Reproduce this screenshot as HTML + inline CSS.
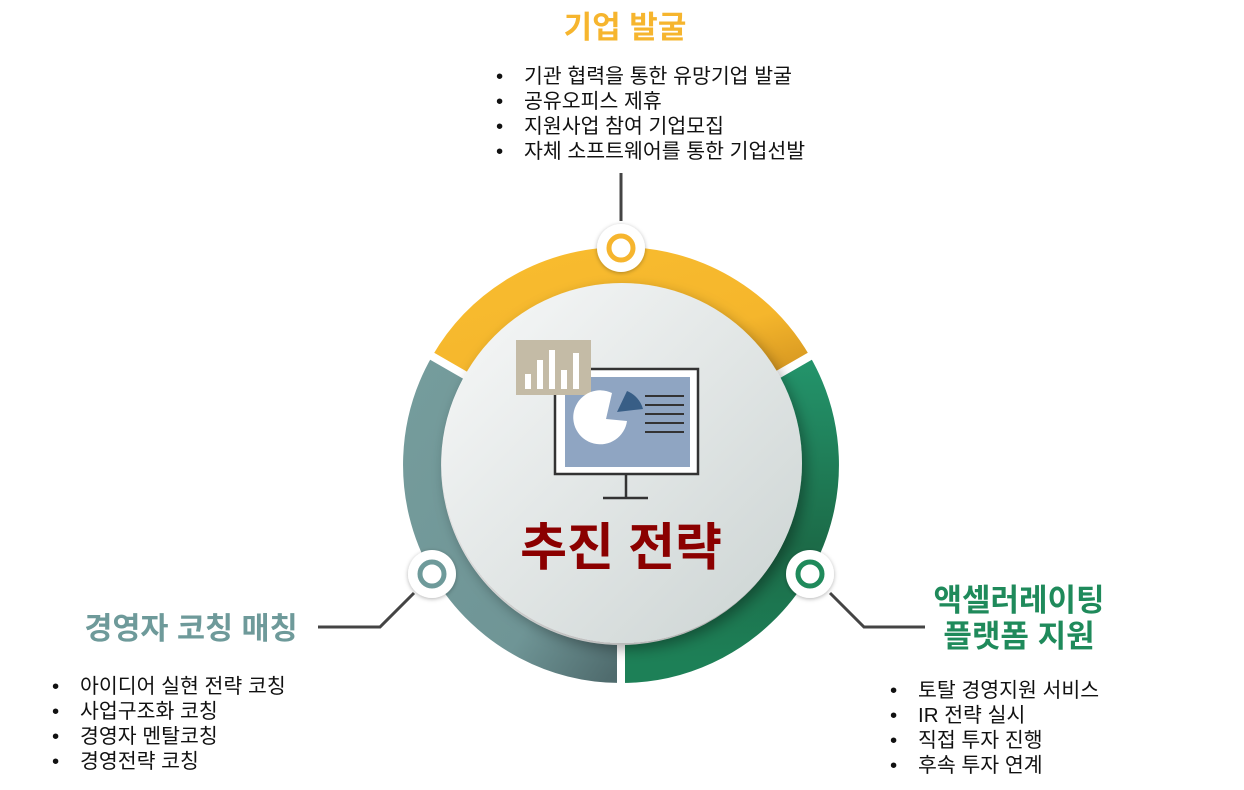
<!DOCTYPE html>
<html><head><meta charset="utf-8"><style>
html,body{margin:0;padding:0;background:#fff;}
svg{display:block;font-family:"Liberation Sans","Noto Sans CJK KR",sans-serif;}
</style></head><body>
<svg width="1244" height="790" viewBox="0 0 1244 790" xmlns="http://www.w3.org/2000/svg">
<defs>
<linearGradient id="gy" x1="0" y1="0" x2="1" y2="1"><stop offset="0" stop-color="#F8BC2F"/><stop offset="0.7" stop-color="#F5B62C"/><stop offset="1" stop-color="#D99A22"/></linearGradient>
<linearGradient id="gg" x1="0" y1="0" x2="0" y2="1"><stop offset="0" stop-color="#23936A"/><stop offset="0.6" stop-color="#1C6B48"/><stop offset="1" stop-color="#1D8057"/></linearGradient>
<linearGradient id="gt" x1="0" y1="0" x2="1" y2="1"><stop offset="0" stop-color="#759C9C"/><stop offset="0.7" stop-color="#6F9596"/><stop offset="1" stop-color="#4F6B6D"/></linearGradient>
<linearGradient id="gc" x1="0" y1="0" x2="1" y2="1"><stop offset="0" stop-color="#F8F9F9"/><stop offset="1" stop-color="#CBD3D2"/></linearGradient>
<filter id="sh" x="-20%" y="-20%" width="140%" height="140%"><feDropShadow dx="4" dy="6" stdDeviation="7" flood-color="#000" flood-opacity="0.35"/></filter>
<filter id="sh2" x="-50%" y="-50%" width="200%" height="200%"><feDropShadow dx="0" dy="1" stdDeviation="2" flood-color="#000" flood-opacity="0.3"/></filter>
</defs>

<path d="M448.7 365.5 A199 199 0 0 1 793.3 365.5" fill="none" stroke="url(#gy)" stroke-width="38"/>
<path d="M793.3 365.5 A199 199 0 0 1 621 664" fill="none" stroke="url(#gg)" stroke-width="38"/>
<path d="M621 664 A199 199 0 0 1 448.7 365.5" fill="none" stroke="url(#gt)" stroke-width="38"/>
<line x1="621" y1="465" x2="621" y2="690" stroke="#fff" stroke-width="8"/>
<line x1="621" y1="465" x2="430" y2="355" stroke="#fff" stroke-width="8"/>
<line x1="621" y1="465" x2="812" y2="355" stroke="#fff" stroke-width="8"/>

<circle cx="622" cy="463" r="180" fill="url(#gc)" filter="url(#sh)"/>

<circle cx="621" cy="248" r="24" fill="#fff" filter="url(#sh2)"/>
<circle cx="621" cy="248" r="12" fill="none" stroke="#F6B52E" stroke-width="5"/>
<circle cx="432" cy="574" r="24" fill="#fff" filter="url(#sh2)"/>
<circle cx="432" cy="574" r="12" fill="none" stroke="#6E9A9A" stroke-width="5"/>
<circle cx="810" cy="574" r="24" fill="#fff" filter="url(#sh2)"/>
<circle cx="810" cy="574" r="12" fill="none" stroke="#1F8A5B" stroke-width="5"/>

<rect x="555" y="369" width="143" height="105" fill="#fff" stroke="#333" stroke-width="2.5"/>
<rect x="565" y="377" width="125" height="90" fill="#8FA5C2"/>
<line x1="626" y1="474" x2="626" y2="498" stroke="#333" stroke-width="2.5"/>
<line x1="603" y1="498" x2="648" y2="498" stroke="#333" stroke-width="2.5"/>
<rect x="516" y="340" width="75" height="55" fill="#C4BBA6"/>
<rect x="525" y="374" width="6" height="15" fill="#fff"/>
<rect x="537" y="360" width="6" height="29" fill="#fff"/>
<rect x="549" y="350" width="6" height="39" fill="#fff"/>
<rect x="561" y="370" width="6" height="19" fill="#fff"/>
<rect x="573" y="353" width="6" height="36" fill="#fff"/>
<path d="M606 419 L627 421 A27 27 0 1 1 612 393 Z" fill="#fff"/>
<path d="M617 412 L627 391 A27 27 0 0 1 643 409 Z" fill="#385E86"/>
<g stroke="#333" stroke-width="2"><line x1="645" y1="396" x2="684" y2="396"/><line x1="645" y1="405" x2="684" y2="405"/><line x1="645" y1="414" x2="684" y2="414"/><line x1="645" y1="423" x2="684" y2="423"/><line x1="645" y1="432" x2="684" y2="432"/></g>

<text x="621" y="565" text-anchor="middle" font-size="51" font-weight="bold" fill="#8B0000">추진 전략</text>

<line x1="621" y1="173" x2="621" y2="221" stroke="#444" stroke-width="3"/>
<polyline points="318,627 380,627 414,593" fill="none" stroke="#444" stroke-width="3"/>
<polyline points="830,593 864,627 925,627" fill="none" stroke="#444" stroke-width="3"/>

<text x="625" y="38" text-anchor="middle" font-size="31" font-weight="bold" fill="#F6B52E">기업 발굴</text>
<g font-size="20.5" fill="#111">
<text x="496" y="83">•</text><text x="524" y="83">기관 협력을 통한 유망기업 발굴</text>
<text x="496" y="108">•</text><text x="524" y="108">공유오피스 제휴</text>
<text x="496" y="133">•</text><text x="524" y="133">지원사업 참여 기업모집</text>
<text x="496" y="158">•</text><text x="524" y="158">자체 소프트웨어를 통한 기업선발</text>
</g>

<text x="191" y="639" text-anchor="middle" font-size="30.5" font-weight="bold" fill="#6E9A9A">경영자 코칭 매칭</text>
<g font-size="20.5" fill="#111">
<text x="52" y="693">•</text><text x="80" y="693">아이디어 실현 전략 코칭</text>
<text x="52" y="718">•</text><text x="80" y="718">사업구조화 코칭</text>
<text x="52" y="743">•</text><text x="80" y="743">경영자 멘탈코칭</text>
<text x="52" y="768">•</text><text x="80" y="768">경영전략 코칭</text>
</g>

<text x="1019" y="611" text-anchor="middle" font-size="31" font-weight="bold" fill="#1F8A5B">액셀러레이팅</text>
<text x="1019" y="647" text-anchor="middle" font-size="31" font-weight="bold" fill="#1F8A5B">플랫폼 지원</text>
<g font-size="20.5" fill="#111">
<text x="890" y="697">•</text><text x="918" y="697">토탈 경영지원 서비스</text>
<text x="890" y="722">•</text><text x="918" y="722">IR 전략 실시</text>
<text x="890" y="747">•</text><text x="918" y="747">직접 투자 진행</text>
<text x="890" y="772">•</text><text x="918" y="772">후속 투자 연계</text>
</g>
</svg>
</body></html>
